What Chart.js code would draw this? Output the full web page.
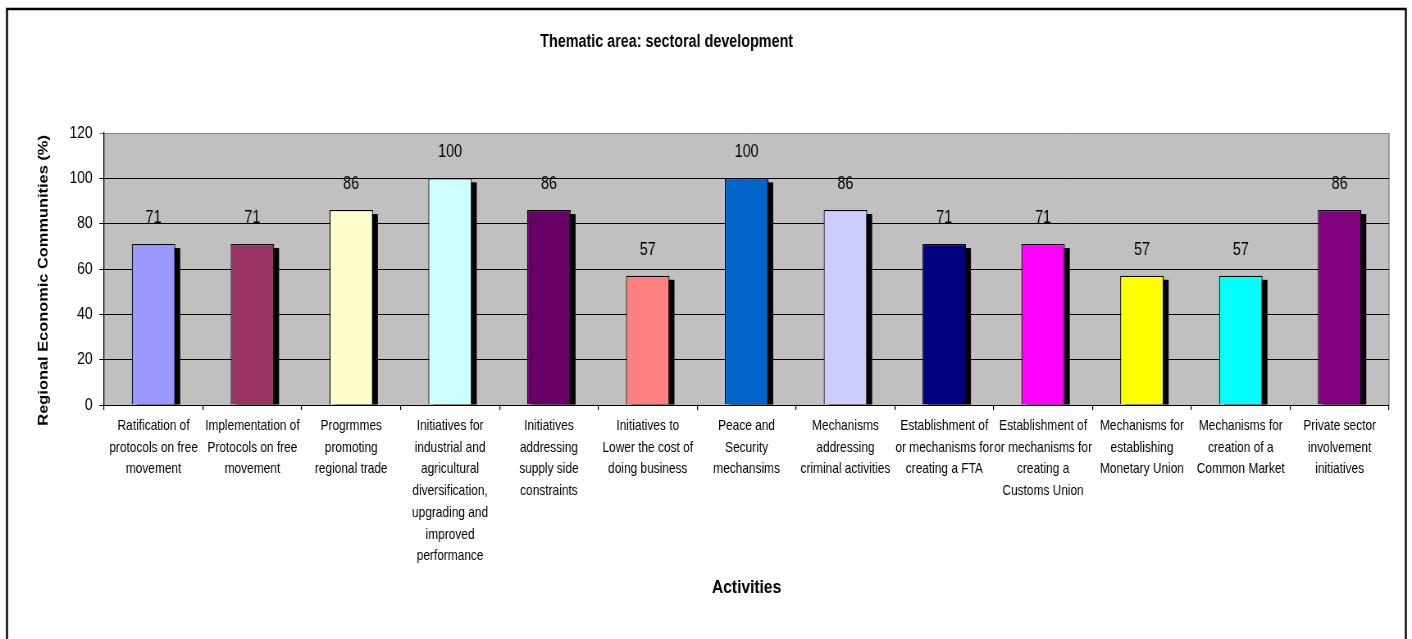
<!DOCTYPE html>
<html>
<head>
<meta charset="utf-8">
<script src="https://cdn.jsdelivr.net/npm/chart.js@4.4.1/dist/chart.umd.min.js"></script>
<style>
  html, body { margin: 0; padding: 0; background: #ffffff; overflow: hidden; width: 1412px; height: 639px; }
  #wrap { position: absolute; left: 0; top: 0; width: 1722px; height: 639px; transform-origin: 0 0; transform: scaleX(0.819977); }
  canvas { display: block; }
</style>
</head>
<body>
<div id="wrap"><canvas id="c" width="1722" height="639"></canvas></div>
<script>
const chartTitle = "Thematic area: sectoral development";
const yAxisTitle = "Regional Economic Communities (%)";
const xAxisTitle = "Activities";

const categories = [
  ["Ratification of", "protocols on free", "movement"],
  ["Implementation of", "Protocols on free", "movement"],
  ["Progrmmes", "promoting", "regional trade"],
  ["Initiatives for", "industrial and", "agricultural", "diversification,", "upgrading and", "improved", "performance"],
  ["Initiatives", "addressing", "supply side", "constraints"],
  ["Initiatives to", "Lower the cost of", "doing business"],
  ["Peace and", "Security", "mechansims"],
  ["Mechanisms", "addressing", "criminal activities"],
  ["Establishment of", "or mechanisms for", "creating a FTA"],
  ["Establishment of", "or mechanisms for", "creating a", "Customs Union"],
  ["Mechanisms for", "establishing", "Monetary Union"],
  ["Mechanisms for", "creation of a", "Common Market"],
  ["Private sector", "involvement", "initiatives"]
];

const values = [71, 71, 86, 100, 86, 57, 100, 86, 71, 71, 57, 57, 86];

const barColors = [
  "#9999FF", "#993366", "#FFFFCC", "#CCFFFF", "#660066", "#FF8080", "#0066CC",
  "#CCCCFF", "#000080", "#FF00FF", "#FFFF00", "#00FFFF", "#800080"
];

const yTicks = [0, 20, 40, 60, 80, 100, 120];

const FONT = "'Liberation Sans', Arial, sans-serif";

const framePlugin = {
  id: 'frame',
  beforeDraw(chart) {
    const ctx = chart.ctx;
    ctx.save();
    ctx.fillStyle = '#ffffff';
    ctx.fillRect(0, 0, chart.width, chart.height);
    ctx.strokeStyle = '#000000';
    ctx.lineWidth = 2;
    ctx.beginPath();
    ctx.moveTo(8.5, 700);
    ctx.lineTo(8.5, 9);
    ctx.lineTo(1714.5, 9);
    ctx.lineTo(1714.5, 700);
    ctx.lineWidth = 2.4;
    ctx.stroke();
    const a = chart.chartArea;
    ctx.fillStyle = '#C0C0C0';
    ctx.fillRect(a.left, a.top, a.right - a.left, a.bottom - a.top);
    ctx.strokeStyle = '#808080';
    ctx.lineWidth = 1.3;
    ctx.beginPath();
    ctx.moveTo(a.right, a.top);
    ctx.lineTo(a.right, a.bottom);
    ctx.stroke();
    ctx.restore();
  },
  afterDraw(chart) {
    const ctx = chart.ctx;
    ctx.save();
    ctx.fillStyle = '#000000';
    ctx.font = "bold 17.5px " + FONT;
    ctx.textAlign = 'center';
    ctx.textBaseline = 'middle';
    ctx.fillText(chartTitle, 813, 42);
    ctx.restore();
  }
};

const shadowPlugin = {
  id: 'shadow',
  beforeDatasetsDraw(chart) {
    const ctx = chart.ctx;
    const meta = chart.getDatasetMeta(0);
    ctx.save();
    ctx.fillStyle = '#000000';
    meta.data.forEach((bar) => {
      const p = bar.getProps(['x', 'y', 'base', 'width'], true);
      const left = p.x - p.width / 2 + 6;
      const top = p.y + 4;
      ctx.fillRect(left, top, p.width, p.base - top);
    });
    ctx.restore();
  }
};

const labelPlugin = {
  id: 'valueLabels',
  afterDatasetsDraw(chart) {
    const ctx = chart.ctx;
    const meta = chart.getDatasetMeta(0);
    const data = chart.data.datasets[0].data;
    ctx.save();
    ctx.fillStyle = '#000000';
    ctx.font = "17.5px " + FONT;
    ctx.textAlign = 'center';
    ctx.textBaseline = 'middle';
    meta.data.forEach((bar, i) => {
      const p = bar.getProps(['x', 'y'], true);
      ctx.fillText(String(data[i]), p.x, p.y - 26);
    });
    ctx.restore();
  }
};

new Chart(document.getElementById('c'), {
  type: 'bar',
  data: {
    labels: categories,
    datasets: [{
      data: values,
      backgroundColor: barColors,
      borderColor: '#000000',
      borderWidth: 1.2,
      categoryPercentage: 1.0,
      barPercentage: 0.44
    }]
  },
  options: {
    responsive: false,
    animation: false,
    devicePixelRatio: 1,
    layout: { padding: { left: 10, right: 28, top: 133, bottom: 0 } },
    plugins: {
      legend: { display: false },
      title: { display: false },
      tooltip: { enabled: false }
    },
    scales: {
      x: {
        type: 'category',
        offset: true,
        grid: {
          display: true,
          offset: true,
          drawOnChartArea: false,
          drawTicks: true,
          tickLength: 5,
          color: '#000000',
          lineWidth: 1.2
        },
        border: { display: true, color: '#000000', width: 1 },
        ticks: {
          autoSkip: false,
          maxRotation: 0,
          minRotation: 0,
          padding: 5,
          color: '#000000',
          font: { family: FONT, size: 14.5, lineHeight: 1.5 }
        },
        title: {
          display: true,
          text: xAxisTitle,
          color: '#000000',
          font: { family: FONT, size: 19, weight: 'bold', lineHeight: 1.2 },
          padding: { top: 0, bottom: 40 }
        },
        afterFit(scale) { scale.height = 234; }
      },
      y: {
        min: 0,
        max: 120,
        afterBuildTicks(scale) { scale.ticks = yTicks.map(v => ({ value: v })); },
        grid: {
          display: true,
          drawTicks: true,
          tickLength: 6,
          color: (ctx) => (ctx.tick && ctx.tick.value === 120 ? '#808080' : '#000000'),
          lineWidth: 1
        },
        border: { display: true, color: '#000000', width: 1.3 },
        ticks: {
          padding: 8,
          color: '#000000',
          font: { family: FONT, size: 17 }
        },
        title: {
          display: true,
          text: yAxisTitle + "     ",
          color: '#000000',
          font: { family: FONT, size: 16.4, weight: 'bold', lineHeight: 1.2 },
          padding: { top: 34, bottom: 0 }
        },
        afterFit(scale) { scale.width = 117; }
      }
    }
  },
  plugins: [framePlugin, shadowPlugin, labelPlugin]
});
</script>
</body>
</html>
